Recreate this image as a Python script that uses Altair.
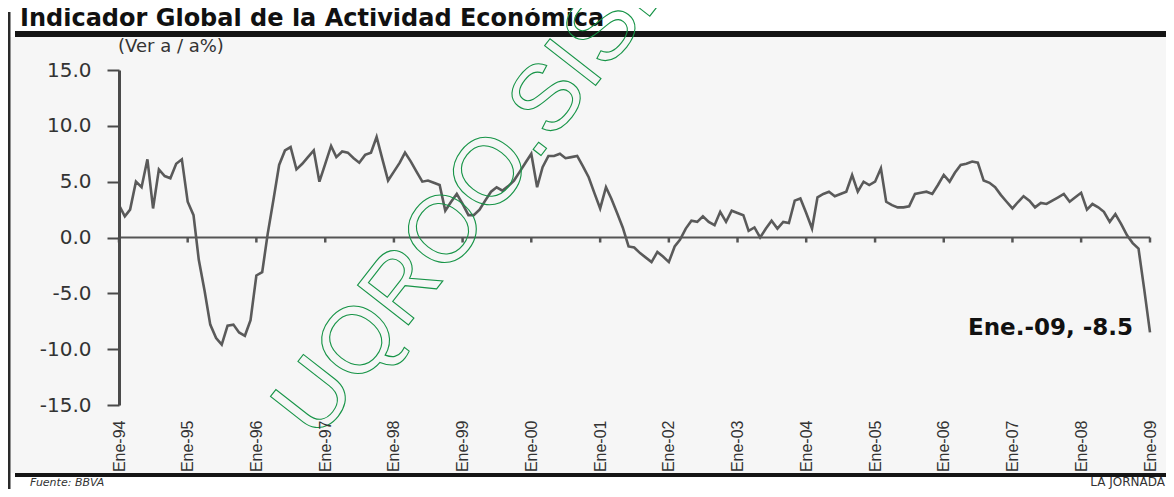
import altair as alt
import pandas as pd

# ---------------- data ----------------
months = pd.date_range("1994-01-01", "2009-01-01", freq="MS").strftime("%Y-%m-%d").tolist()

values = [
    # 1994
    2.9, 1.9, 2.5, 5.0, 4.5, 7.0, 2.6, 6.1, 5.5, 5.3, 6.6, 7.0,
    # 1995
    3.2, 2.0, -2.0, -4.8, -7.8, -9.0, -9.6, -7.9, -7.8, -8.5, -8.8, -7.4,
    # 1996
    -3.4, -3.1, 0.3, 3.4, 6.5, 7.8, 8.1, 6.1, 6.6, 7.2, 7.8, 5.0,
    # 1997
    6.6, 8.2, 7.2, 7.7, 7.6, 7.1, 6.7, 7.4, 7.6, 9.0, 7.0, 5.1,
    # 1998
    5.9, 6.7, 7.6, 6.8, 5.9, 5.0, 5.1, 4.9, 4.7, 2.4, 3.2, 3.9,
    # 1999
    3.0, 2.0, 2.0, 2.5, 3.3, 4.1, 4.5, 4.2, 4.6, 5.1, 5.9, 6.7,
    # 2000
    7.5, 4.5, 6.3, 7.3, 7.3, 7.5, 7.1, 7.2, 7.3, 6.4, 5.4, 4.0,
    # 2001
    2.6, 4.5, 3.5, 2.2, 0.9, -0.8, -0.9, -1.4, -1.8, -2.2, -1.3, -1.7,
    # 2002
    -2.2, -0.8, -0.2, 0.8, 1.5, 1.4, 1.9, 1.4, 1.1, 2.3, 1.4, 2.4,
    # 2003
    2.2, 2.0, 0.6, 0.9, 0.0, 0.8, 1.5, 0.8, 1.4, 1.3, 3.3, 3.5,
    # 2004
    2.2, 0.8, 3.6, 3.9, 4.1, 3.7, 3.9, 4.1, 5.6, 4.1, 5.0, 4.7,
    # 2005
    5.0, 6.2, 3.2, 2.9, 2.7, 2.7, 2.8, 3.9, 4.0, 4.1, 3.9, 4.7,
    # 2006
    5.6, 5.0, 5.8, 6.5, 6.6, 6.8, 6.7, 5.1, 4.9, 4.5, 3.8, 3.2,
    # 2007
    2.6, 3.2, 3.7, 3.3, 2.7, 3.1, 3.0, 3.3, 3.6, 3.9, 3.2, 3.6,
    # 2008
    4.0, 2.5, 3.0, 2.7, 2.3, 1.4, 2.1, 1.2, 0.2, -0.5, -1.0, -4.6,
    # 2009
    -8.5,
]

tick_years = list(range(1994, 2010))
y_ticks = [-15, -10, -5, 0, 5, 10, 15]

title_text = "Indicador Global de la Actividad Económica"
unit_text = "(Ver a / a%)"
source_text = "Fuente: BBVA"
credit_text = "LA JORNADA"
annotation_text = "Ene.-09, -8.5"
watermark_text = "UQROO.SISE"

# ---------------- tables ----------------
df = pd.DataFrame({"fecha": months, "valor": values})
ticks_df = pd.DataFrame({"fecha": [f"{y}-01-01" for y in tick_years]})
last_df = pd.DataFrame({"fecha": [months[-1]], "valor": [values[-1]], "t": [annotation_text]})
one = pd.DataFrame({"k": [0]})

W, H = 1031, 335

x_scale = alt.Scale(
    type="utc",
    domain=[alt.DateTime(year=1994, month=1, date=1, utc=True),
            alt.DateTime(year=2009, month=1, date=1, utc=True)],
)
y_scale = alt.Scale(domain=[-15, 15], nice=False, zero=False)

x_axis = alt.Axis(
    values=[alt.DateTime(year=y, month=1, date=1, utc=True) for y in tick_years],
    labelExpr="'Ene-' + utcFormat(datum.value, '%y')",
    labelAngle=270,
    labelFont="Liberation Sans",
    labelFontSize=16,
    labelColor="#333333",
    labelPadding=15,
    labelOverlap=False,
    labelFlush=False,
    domain=False,
    ticks=False,
    tickSize=0,
    grid=False,
    title=None,
    zindex=1,
)
y_axis = alt.Axis(
    values=y_ticks,
    labelExpr="(datum.value < 0 ? '-' : '') + format(abs(datum.value), '.1f')",
    labelFont="DejaVu Sans",
    labelFontSize=20,
    labelColor="#333333",
    labelPadding=16,
    domainColor="#4a4a4a",
    domainWidth=3,
    tickColor="#4a4a4a",
    tickWidth=2,
    tickSize=12,
    grid=False,
    title=None,
    zindex=1,
)

# ---------------- decorations ----------------
panel = alt.Chart(one).mark_rect(color="#f6f6f6").encode(
    x=alt.value(-109), x2=alt.value(1050), y=alt.value(-33), y2=alt.value(403))
title_bar = alt.Chart(one).mark_rect(color="#151515").encode(
    x=alt.value(-104), x2=alt.value(1050), y=alt.value(-39), y2=alt.value(-33))
left_bar = alt.Chart(one).mark_rect(color="#2a2a2a").encode(
    x=alt.value(-111), x2=alt.value(-108.5), y=alt.value(-58), y2=alt.value(420))
bottom_bar = alt.Chart(one).mark_rect(color="#151515").encode(
    x=alt.value(-104), x2=alt.value(1050), y=alt.value(403), y2=alt.value(407))

title = alt.Chart(one).mark_text(
    align="left", baseline="alphabetic", font="DejaVu Sans", fontWeight="bold",
    fontSize=24, color="#111111").encode(
    x=alt.value(-99), y=alt.value(-44), text=alt.value(title_text))
unit = alt.Chart(one).mark_text(
    align="left", baseline="middle", font="DejaVu Sans", fontSize=18,
    color="#333333").encode(
    x=alt.value(-1), y=alt.value(-23), text=alt.value(unit_text))
source = alt.Chart(one).mark_text(
    align="left", baseline="alphabetic", font="DejaVu Sans", fontStyle="italic",
    fontSize=11, color="#333333").encode(
    x=alt.value(-89), y=alt.value(415.5), text=alt.value(source_text))
credit = alt.Chart(one).mark_text(
    align="right", baseline="alphabetic", font="DejaVu Sans",
    fontSize=12, color="#333333").encode(
    x=alt.value(1046), y=alt.value(415.5), text=alt.value(credit_text))

# ---------------- data layers ----------------
zero_rule = alt.Chart(one).mark_rule(color="#555555", strokeWidth=2).encode(
    y=alt.Y("k:Q", scale=y_scale, axis=y_axis))
year_ticks = alt.Chart(ticks_df).mark_rule(color="#555555", strokeWidth=2.5).encode(
    x=alt.X("fecha:T", scale=x_scale, axis=x_axis),
    y=alt.YDatum(0, scale=y_scale, axis=y_axis),
    y2=alt.Y2Datum(-0.45),
)
line = alt.Chart(df).mark_line(color="#5a5a5a", strokeWidth=2.6).encode(
    x=alt.X("fecha:T", scale=x_scale, axis=x_axis),
    y=alt.Y("valor:Q", scale=y_scale, axis=y_axis),
)
annot = alt.Chart(last_df).mark_text(
    align="right", baseline="middle", dx=-17, dy=-4, font="DejaVu Sans",
    fontWeight="bold", fontSize=23, color="#111111").encode(
    x=alt.X("fecha:T", scale=x_scale, axis=x_axis),
    y=alt.Y("valor:Q", scale=y_scale, axis=y_axis),
    text="t:N",
)
watermark = alt.Chart(one).mark_text(
    align="left", baseline="alphabetic", angle=308, font="Liberation Sans",
    fontSize=94, fillOpacity=0, stroke="#179447", strokeWidth=1.1).encode(
    x=alt.value(198), y=alt.value(372), text=alt.value(watermark_text))

chart = alt.layer(
    panel, title_bar, left_bar, bottom_bar, title, unit, source, credit,
    zero_rule, year_ticks, line, annot, watermark,
).properties(
    width=W, height=H,
    autosize=alt.AutoSizeParams(type="none"),
    padding={"left": 111, "top": 62, "right": 16, "bottom": 84},
    background="white",
).configure_view(strokeWidth=0)

chart.save("out.html", embed_options={"renderer": "svg", "actions": False})
